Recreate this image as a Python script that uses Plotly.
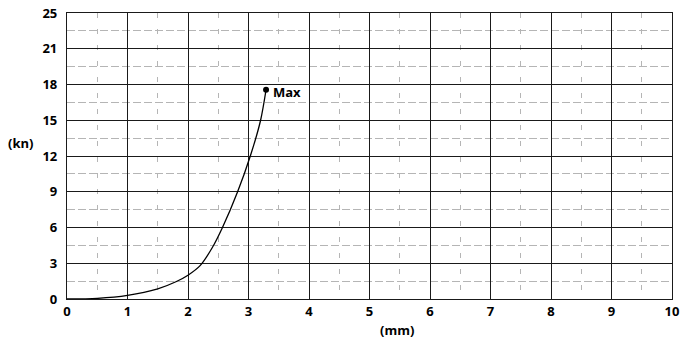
import plotly.graph_objects as go

# data
disp_mm = [0, 0.5, 1.0, 1.5, 1.8, 2.0, 2.2, 2.4, 2.57, 2.82, 3.03, 3.2, 3.29]
load_kn = [0, 0.05, 0.3, 0.85, 1.45, 2.0, 2.8, 4.3, 6.0, 9.0, 12.0, 15.0, 17.56]

x_ticks = [0, 1, 2, 3, 4, 5, 6, 7, 8, 9, 10]
y_tickvals = [0, 3, 6, 9, 12, 15, 18, 21, 24]
y_ticktext = ["0", "3", "6", "9", "12", "15", "18", "21", "25"]

FONT = "Open Sans"

fig = go.Figure()
fig.add_trace(go.Scatter(
    x=disp_mm, y=load_kn, mode="lines",
    line=dict(color="black", width=1.3, shape="spline", smoothing=0.8),
    hoverinfo="skip", showlegend=False,
))
fig.add_trace(go.Scatter(
    x=[disp_mm[-1]], y=[load_kn[-1]], mode="markers",
    marker=dict(color="black", size=6),
    hoverinfo="skip", showlegend=False,
))

fig.add_annotation(x=disp_mm[-1], y=load_kn[-1], text="<b>Max</b>", showarrow=False,
                   xanchor="left", yanchor="middle", xshift=5, yshift=-2,
                   font=dict(family=FONT, size=13, color="black"))
fig.add_annotation(x=5.45, y=0, xref="x", yref="paper", text="<b>(mm)</b>", showarrow=False,
                   xanchor="center", yanchor="top", yshift=-20,
                   font=dict(family=FONT, size=13, color="black"))
fig.add_annotation(x=0, y=13.1, xref="paper", yref="y", text="<b>(kn)</b>", showarrow=False,
                   xanchor="right", yanchor="middle", xshift=-32,
                   font=dict(family=FONT, size=13, color="black"))

fig.update_layout(
    width=690, height=345,
    margin=dict(l=67, r=18, t=13, b=46, autoexpand=False),
    paper_bgcolor="white", plot_bgcolor="white",
    font=dict(family=FONT, size=13, color="black", weight="bold"),
    xaxis=dict(
        range=[0, 10], tickvals=x_ticks, ticktext=[str(v) for v in x_ticks],
        automargin=False,
        showgrid=True, gridcolor="#1a1a1a", gridwidth=1.3,
        showline=True, linecolor="#1a1a1a", linewidth=1.3, mirror=True,
        zeroline=False, ticks="", ticklen=0,
        minor=dict(dtick=0.5, showgrid=True, gridcolor="#b5b5b5", gridwidth=1, griddash="5px,11px"),
        tickfont=dict(family=FONT, size=13, color="black", weight="bold"),
    ),
    yaxis=dict(
        range=[0, 24], tickvals=y_tickvals, ticktext=y_ticktext,
        automargin=False,
        showgrid=True, gridcolor="#1a1a1a", gridwidth=1.3,
        showline=True, linecolor="#1a1a1a", linewidth=1.3, mirror=True,
        zeroline=False, ticks="", ticklen=0, ticklabelstandoff=6,
        minor=dict(dtick=1.5, showgrid=True, gridcolor="#b5b5b5", gridwidth=1, griddash="8px,3px"),
        tickfont=dict(family=FONT, size=13, color="black", weight="bold"),
    ),
)

fig.write_html("out.html", config={"displayModeBar": False},
               post_script="document.body.style.margin='0';")
